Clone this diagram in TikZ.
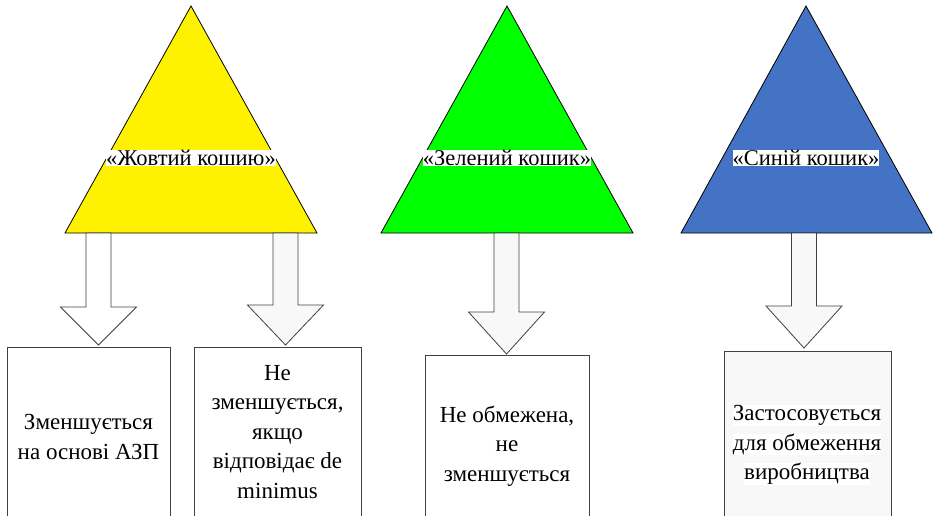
\documentclass[tikz,border=0pt]{standalone}
\usepackage{fontspec}
\setmainfont{Liberation Serif}
\definecolor{ablue}{HTML}{4472C4}
\definecolor{lgrey}{HTML}{F8F8F8}
\definecolor{edge}{HTML}{404040}
\newcommand\hlw[1]{{\setlength{\fboxsep}{0pt}\colorbox{white}{#1}}}
\begin{document}
\begin{tikzpicture}[x=1pt,y=-1pt,
  tri/.style={draw=black,line width=0.8pt,line join=miter},
  lbl/.style={fill=white,inner sep=0pt,font=\rmfamily\fontsize{22.5}{26}\selectfont},
  boxtxt/.style={align=center,inner sep=0pt,font=\rmfamily\fontsize{23}{29.5}\selectfont},
  boxline/.style={draw=edge,line width=0.8pt},
  barrow/.style={draw=edge,line width=0.8pt,line join=miter}]
\useasboundingbox (0,0) rectangle (937,515);
\clip (0,0) rectangle (937,515);
% triangles
\filldraw[tri,fill=yellow] (191,6) -- (317,233) -- (65,233) -- cycle;
\filldraw[tri,fill=green] (507,6) -- (633,233) -- (381,233) -- cycle;
\filldraw[tri,fill=ablue] (806,6) -- (932,233) -- (681,233) -- cycle;
\node[lbl] (t1) at (191,158) {«Жовтий кошию»};
\node[lbl] (t2) at (507,158) {«Зелений кошик»};
\node[lbl] (t3) at (806,158) {«Синій кошик»};
% block arrows
\newcommand\blkarrow[5]{%
  \filldraw[barrow,fill=#1] (#2-12.5,#3) -- (#2+12.5,#3) -- (#2+12.5,#4) -- (#2+38,#4)
    -- (#2,#5) -- (#2-38,#4) -- (#2-12.5,#4) -- cycle;}
\blkarrow{white}{98.5}{233}{307}{345}
\blkarrow{lgrey}{285.5}{233}{305}{345}
\blkarrow{lgrey}{506.5}{233}{312}{354}
\blkarrow{lgrey}{804}{233}{306}{348}
% boxes
\filldraw[boxline,fill=white] (7,347) rectangle (170,530);
\filldraw[boxline,fill=white] (194,347) rectangle (361,530);
\filldraw[boxline,fill=white] (425,355) rectangle (589,530);
\filldraw[boxline,fill=lgrey] (724,351) rectangle (891,530);
\node[boxtxt] (b1) at (88.5,437) {Зменшується\\на основі АЗП};
\node[boxtxt] (b2) at (277.5,432) {Не\\зменшується,\\якщо\\відповідає de\\minimus};
\node[boxtxt] (b3) at (507,446) {Не обмежена,\\не\\зменшується};
\node[boxtxt] (b4) at (807,445) {\hlw{Застосовується}\\\hlw{для обмеження}\\\hlw{виробництва}};
\end{tikzpicture}
\end{document}
